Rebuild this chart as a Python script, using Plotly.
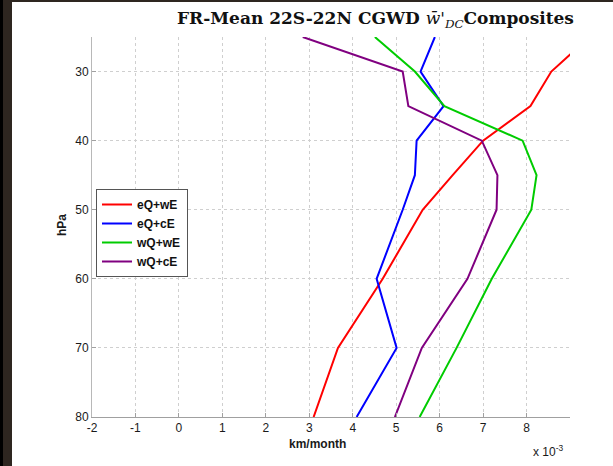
import plotly.graph_objects as go

# pressure levels (hPa)
levels = [25, 30, 35, 40, 45, 50, 60, 70, 80]
# CGWD composites in units of 1e-3 km/month
eQ_wE = [9.45, 8.57, 8.09, 7.0, 6.3, 5.61, 4.69, 3.66, 3.10]
eQ_cE = [5.89, 5.56, 6.09, 5.47, 5.43, 5.15, 4.55, 5.01, 4.09]
wQ_wE = [4.51, 5.43, 6.11, 7.91, 8.23, 8.11, 7.2, 6.39, 5.54]
wQ_cE = [2.85, 5.15, 5.28, 6.97, 7.33, 7.31, 6.64, 5.59, 4.97]
series_names = ["eQ+wE", "eQ+cE", "wQ+wE", "wQ+cE"]
series_colors = ["#ff0000", "#0000ff", "#00cc00", "#800080"]
x_ticks = [-2, -1, 0, 1, 2, 3, 4, 5, 6, 7, 8]
y_ticks = [30, 40, 50, 60, 70, 80]

W, H = 613, 466
L, R, T, B = 92, 43, 37, 49
pw, ph = W - L - R, H - T - B

def px(x):
    return (x - L) / pw

def py(y):
    return (H - B - y) / ph

fig = go.Figure()
for name, vals, col in zip(series_names, [eQ_wE, eQ_cE, wQ_wE, wQ_cE], series_colors):
    fig.add_trace(go.Scatter(x=vals, y=levels, mode="lines", name="<b>" + name + "</b>",
                             line=dict(color=col, width=2)))

axis_font = dict(family="Liberation Sans, Arial", size=12, color="#1a1a1a")
fig.update_layout(
    width=W, height=H,
    margin=dict(l=L, r=R, t=T, b=B),
    paper_bgcolor="#2e2620",
    plot_bgcolor="white",
    showlegend=True,
    legend=dict(x=px(96), y=py(189), xanchor="left", yanchor="top",
                bgcolor="white", bordercolor="#555555", borderwidth=1,
                font=dict(family="Liberation Sans, Arial", size=12, color="#111111"),
                tracegroupgap=0, itemwidth=30),
    xaxis=dict(range=[-2, 9], tickvals=x_ticks, ticktext=[str(v) for v in x_ticks],
               showgrid=True, gridcolor="#cfcfcf", griddash="dot", gridwidth=1,
               showline=True, linecolor="#a0a0a0", linewidth=1,
               ticks="inside", ticklen=4, tickcolor="#a0a0a0",
               zeroline=False, tickfont=axis_font, mirror=False),
    yaxis=dict(range=[80, 25], tickvals=y_ticks, ticktext=[str(v) for v in y_ticks],
               showgrid=True, gridcolor="#cfcfcf", griddash="dot", gridwidth=1,
               showline=True, linecolor="#b8b8b8", linewidth=1,
               ticks="inside", ticklen=4, tickcolor="#a0a0a0",
               zeroline=False, tickfont=axis_font),
    shapes=[
        dict(type="rect", xref="paper", yref="paper", x0=px(12), x1=px(W + 5),
             y0=py(H + 5), y1=py(2), fillcolor="white", line=dict(width=0), layer="below"),
        dict(type="rect", xref="paper", yref="paper", x0=px(-5), x1=px(3),
             y0=py(H + 5), y1=py(-5), fillcolor="black", line=dict(width=0), layer="below"),
    ],
    annotations=[
        dict(text="<b>FR-Mean 22S-22N CGWD </b><i>w̄'<sub>DC</sub></i><b>Composites</b>",
             xref="paper", yref="paper", x=px(375), y=py(20), xanchor="center", yanchor="middle",
             showarrow=False, font=dict(family="DejaVu Serif", size=17, color="#111111")),
        dict(text="<b>km/month</b>", xref="paper", yref="paper", x=px(317), y=py(444),
             xanchor="center", yanchor="middle", showarrow=False,
             font=dict(family="Liberation Sans, Arial", size=12, color="#1a1a1a")),
        dict(text="x 10<sup>-3</sup>", xref="paper", yref="paper", x=px(548), y=py(451),
             xanchor="center", yanchor="middle", showarrow=False,
             font=dict(family="Liberation Sans, Arial", size=12, color="#1a1a1a")),
        dict(text="<b>hPa</b>", xref="paper", yref="paper", x=px(62), y=py(225),
             xanchor="center", yanchor="middle", showarrow=False, textangle=-90,
             font=dict(family="Liberation Sans, Arial", size=12, color="#1a1a1a")),
    ],
)

fig.write_html("out.html", config={"displayModeBar": False},
               post_script="document.body.style.margin='0';document.body.style.padding='0';")
